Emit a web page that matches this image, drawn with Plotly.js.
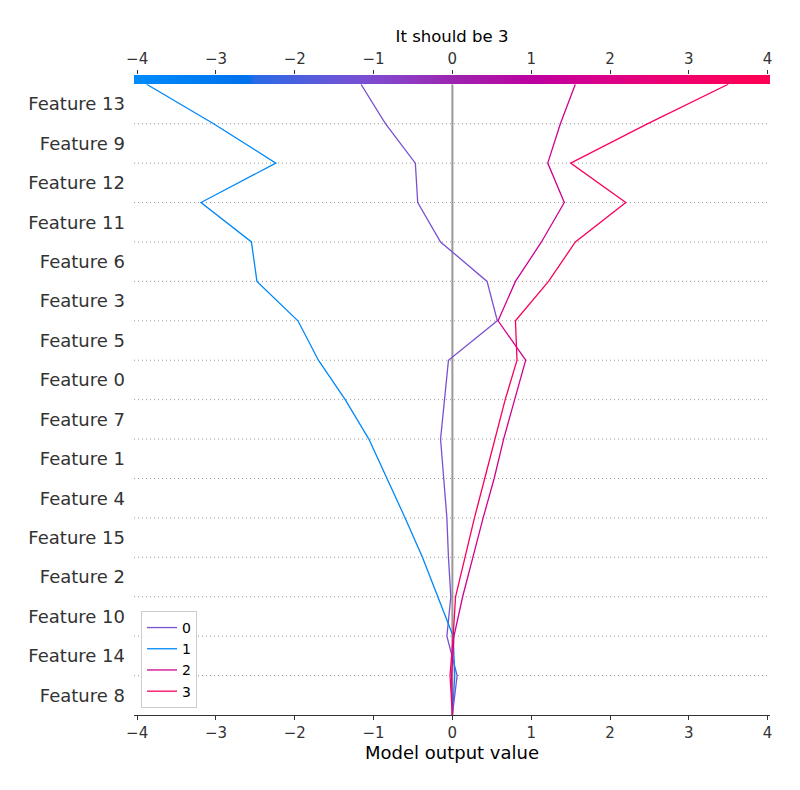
<!DOCTYPE html>
<html>
<head>
<meta charset="utf-8">
<script src="https://cdn.plot.ly/plotly-3.0.1.min.js"></script>
<style>html,body{margin:0;padding:0;background:#fff;}#chart{width:800px;height:790px;}</style>
</head>
<body>
<div id="chart"></div>
<script>
// Features, bottom to top
const featureNames = ['Feature 8','Feature 14','Feature 10','Feature 2','Feature 15','Feature 4','Feature 1','Feature 7','Feature 0','Feature 5','Feature 3','Feature 6','Feature 11','Feature 12','Feature 9','Feature 13'];
// cumulative model output at each boundary, bottom (base) to top
const output0 = [0, 0.06, -0.07, -0.02, -0.05, -0.07, -0.11, -0.15, -0.10, -0.05, 0.57, 0.44, -0.15, -0.44, -0.47, -0.85, -1.16];
const output1 = [0, 0.03, 0.01, -0.18, -0.38, -0.60, -0.83, -1.06, -1.36, -1.70, -1.96, -2.48, -2.55, -3.19, -2.24, -3.03, -3.88];
const output2 = [0, -0.01, 0.02, 0.13, 0.26, 0.39, 0.53, 0.65, 0.79, 0.93, 0.58, 0.80, 1.13, 1.42, 1.21, 1.37, 1.56];
const output3 = [0, -0.03, 0.01, 0.04, 0.16, 0.28, 0.41, 0.54, 0.67, 0.82, 0.80, 1.22, 1.56, 2.20, 1.50, 2.48, 3.50];
const outputNames = ['0','1','2','3'];
const baseValue = 0;
const xRange = [-4.04, 4.03];
const tickValues = [-4,-3,-2,-1,0,1,2,3,4];

const colorStops = [
  [0, '#008bfb'], [0.178, '#0071ec'], [0.19, '#2a6ae5'], [0.257, '#4a60de'],
  [0.309, '#6458d8'], [0.36, '#7a4fd2'], [0.414, '#8a40c6'], [0.466, '#9530b8'],
  [0.508, '#9c22ad'], [0.575, '#b010a5'], [0.627, '#bd00a0'], [0.705, '#d20090'],
  [0.81, '#e80078'], [0.916, '#f70062'], [1, '#ff0052']
];
function hex2rgb(h){return [parseInt(h.substr(1,2),16),parseInt(h.substr(3,2),16),parseInt(h.substr(5,2),16)];}
function colorAt(v){
  let f = (v - xRange[0])/(xRange[1]-xRange[0]);
  f = Math.max(0, Math.min(1, f));
  for (let i=1;i<colorStops.length;i++){
    if (f <= colorStops[i][0]){
      const a = colorStops[i-1], b = colorStops[i];
      const t = (f - a[0])/(b[0]-a[0]);
      const ca = hex2rgb(a[1]), cb = hex2rgb(b[1]);
      const c = ca.map((x,k)=>Math.round(x + (cb[k]-x)*t));
      return 'rgb(' + c.join(',') + ')';
    }
  }
  return colorStops[colorStops.length-1][1];
}

const boundaryY = Array.from({length: featureNames.length + 1}, (_, i) => i - 0.5);
const outputs = [output0, output1, output2, output3];

const traces = outputs.map((vals, k) => ({
  type: 'scatter', mode: 'lines',
  x: vals, y: boundaryY,
  name: outputNames[k],
  line: {color: colorAt(vals[vals.length-1]), width: 1.3},
  xaxis: 'x', yaxis: 'y', hoverinfo: 'skip'
}));

// colour bar strip
const nSteps = 300;
const barX = Array.from({length: nSteps}, (_, i) => xRange[0] + (xRange[1]-xRange[0]) * i/(nSteps-1));
traces.push({
  type: 'heatmap', x: barX, y: [0], z: [barX],
  colorscale: colorStops, zmin: xRange[0], zmax: xRange[1],
  showscale: false, hoverinfo: 'skip', zsmooth: 'best',
  xaxis: 'x2', yaxis: 'y2', showlegend: false
});

const shapes = [];
for (let i = 1; i < featureNames.length; i++) {
  shapes.push({type: 'line', xref: 'paper', yref: 'y', x0: 0, x1: 1, y0: i - 0.5, y1: i - 0.5,
    line: {color: '#999999', width: 1, dash: '1px,3px'}, layer: 'below'});
}
shapes.push({type: 'line', xref: 'x', yref: 'y', x0: baseValue, x1: baseValue, y0: -0.5, y1: featureNames.length - 0.5,
  line: {color: '#999999', width: 2}, layer: 'below'});

const layout = {
  width: 800, height: 790,
  margin: {l: 134, r: 30, t: 75, b: 75},
  paper_bgcolor: '#fff', plot_bgcolor: '#fff',
  font: {family: 'DejaVu Sans, sans-serif', color: '#333'},
  title: {text: 'It should be 3', x: 0.5, xref: 'paper', y: 1 - 36/790, yanchor: 'middle',
    font: {family: 'DejaVu Sans, sans-serif', size: 16.5, color: '#000'}},
  showlegend: true,
  legend: {x: 0.011, y: 0.011, xanchor: 'left', yanchor: 'bottom',
    bgcolor: 'rgba(255,255,255,0.85)', bordercolor: '#cccccc', borderwidth: 1,
    font: {family: 'DejaVu Sans, sans-serif', size: 14, color: '#000'}},
  xaxis: {range: xRange, tickvals: tickValues, ticks: 'outside', ticklen: 4, tickcolor: '#333',
    showline: true, linecolor: '#333', linewidth: 1, showgrid: false, zeroline: false,
    tickfont: {family: 'DejaVu Sans, sans-serif', size: 15, color: '#333'},
    title: {text: 'Model output value', standoff: 5, font: {family: 'DejaVu Sans, sans-serif', size: 18, color: '#000'}},
    anchor: 'y'},
  yaxis: {range: [-0.5, featureNames.length - 0.5], domain: [0, 0.9855],
    tickvals: featureNames.map((_, i) => i), ticktext: featureNames,
    ticks: '', showline: false, showgrid: false, zeroline: false, ticklabelstandoff: 8,
    tickfont: {family: 'DejaVu Sans, sans-serif', size: 18, color: '#333'}},
  xaxis2: {range: xRange, tickvals: tickValues, side: 'top', anchor: 'y2', ticks: 'outside', ticklen: 4,
    tickcolor: '#333', showgrid: false, zeroline: false, showline: false,
    tickfont: {family: 'DejaVu Sans, sans-serif', size: 15, color: '#333'}},
  yaxis2: {domain: [0.9855, 1], range: [-0.5, 0.5], showticklabels: false, ticks: '', showgrid: false, zeroline: false},
  shapes: shapes
};

Plotly.newPlot('chart', traces, layout, {staticPlot: true, displayModeBar: false});
</script>
</body>
</html>
